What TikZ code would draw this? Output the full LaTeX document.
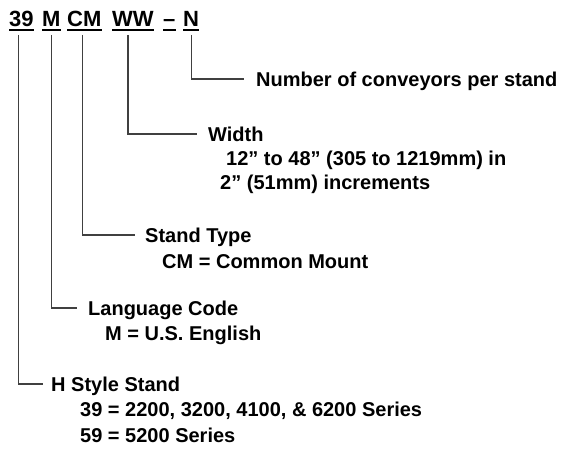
\documentclass[tikz,border=0pt]{standalone}
\usepackage{fontspec}
\setmainfont{Liberation Sans}
\begin{document}
\begin{tikzpicture}[x=1pt,y=-1pt,line cap=butt,
  code/.style={font=\fontsize{22}{26}\selectfont\bfseries,inner sep=0pt,anchor=base west},
  head/.style={font=\fontsize{20}{24}\selectfont\bfseries,inner sep=0pt,anchor=base west,text height=14pt,text depth=0pt},
  sub/.style={font=\fontsize{20}{24}\selectfont\bfseries,inner sep=0pt,anchor=base west},
  uline/.style={line width=1.8pt},
  lead/.style={line width=1.2pt,draw=black!75}]
  \useasboundingbox (0,0) rectangle (573,460);
  % model code
  \node[code] (c39) at (9,27) {39};
  \node[code] (cM) at (42,27) {M};
  \node[code] (cCM) at (67,27) {CM};
  \node[code] (cWW) at (112,27) {WW};
  \node[code] (cdash) at (163,27) {–};
  \node[code] (cN) at (183,27) {N};
  \foreach \c in {c39,cM,cCM,cWW,cdash,cN}
    \draw[uline] ([yshift=-3pt]\c.base west) -- ([yshift=-3pt]\c.base east);
  % headings
  \node[head] (hN) at (256,86) {Number of conveyors per stand};
  \node[head] (hWW) at (208,141) {Width};
  \node[sub] (sWW1) at (226,165) {12” to 48” (305 to 1219mm) in};
  \node[sub] (sWW2) at (220,189) {2” (51mm) increments};
  \node[head] (hCM) at (145,242) {Stand Type};
  \node[sub] (sCM) at (162,268) {CM = Common Mount};
  \node[head] (hM) at (88,315) {Language Code};
  \node[sub] (sM) at (105,340) {M = U.S. English};
  \node[head] (h39) at (51,391) {H Style Stand};
  \node[sub] (s39a) at (80,416) {39 = 2200, 3200, 4100, \& 6200 Series};
  \node[sub] (s39b) at (80,442) {59 = 5200 Series};
  % leaders
  \draw[lead] ([yshift=-8pt]cN.base) |- ([xshift=-12pt]hN.west);
  \draw[lead] ([yshift=-8pt,xshift=-5pt]cWW.base) |- ([xshift=-11pt]hWW.west);
  \draw[lead] ([yshift=-8pt,xshift=-2pt]cCM.base) |- ([xshift=-10pt]hCM.west);
  \draw[lead] ([yshift=-8pt]cM.base) |- ([xshift=-11pt]hM.west);
  \draw[lead] ([yshift=-8pt,xshift=-3pt]c39.base) |- ([xshift=-8pt]h39.west);
\end{tikzpicture}
\end{document}
